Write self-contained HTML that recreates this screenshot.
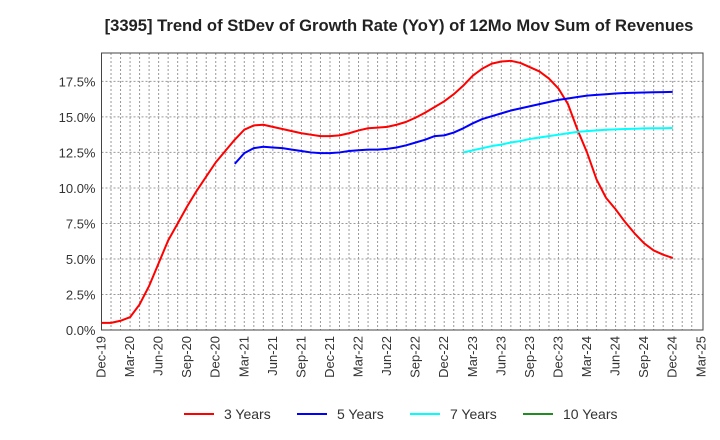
<!DOCTYPE html>
<html><head><meta charset="utf-8"><style>
body{margin:0;background:#fff;font-family:"Liberation Sans",Arial,sans-serif;}
svg{display:block}
</style></head><body>
<svg id="chart" width="720" height="440" viewBox="0 0 720 440" xmlns="http://www.w3.org/2000/svg">
<text x="399" y="31" text-anchor="middle" font-size="16.6" font-weight="bold" fill="#222">[3395]  Trend of StDev of Growth Rate (YoY) of 12Mo Mov Sum of Revenues</text>
<g id="grid"></g><g id="axes"></g><g id="series"></g>
<g>
<line x1="184" y1="414" x2="214" y2="414" stroke="#ff0000" stroke-width="2"/><text x="224" y="419" font-size="14" fill="#333">3 Years</text>
<line x1="297" y1="414" x2="327" y2="414" stroke="#0000ff" stroke-width="2"/><text x="337" y="419" font-size="14" fill="#333">5 Years</text>
<line x1="410" y1="414" x2="440" y2="414" stroke="#00ffff" stroke-width="2"/><text x="450" y="419" font-size="14" fill="#333">7 Years</text>
<line x1="523" y1="414" x2="553" y2="414" stroke="#228b22" stroke-width="2"/><text x="563" y="419" font-size="14" fill="#333">10 Years</text>
</g>
</svg>
<script>
const monthLabels=["Dec-19","Mar-20","Jun-20","Sep-20","Dec-20","Mar-21","Jun-21","Sep-21","Dec-21","Mar-22","Jun-22","Sep-22","Dec-22","Mar-23","Jun-23","Sep-23","Dec-23","Mar-24","Jun-24","Sep-24","Dec-24","Mar-25"];
const yTicks=[0,2.5,5,7.5,10,12.5,15,17.5];
const yTickLabels=["0.0%","2.5%","5.0%","7.5%","10.0%","12.5%","15.0%","17.5%"];
const start3=0;
const series3=[0.5,0.5,0.65,0.9,1.8,3.1,4.7,6.3,7.5,8.7,9.8,10.8,11.8,12.6,13.4,14.1,14.4,14.45,14.3,14.15,14.0,13.85,13.75,13.65,13.65,13.7,13.85,14.05,14.2,14.25,14.3,14.45,14.65,14.95,15.3,15.7,16.1,16.6,17.2,17.9,18.4,18.75,18.9,18.95,18.8,18.5,18.2,17.7,17.0,15.9,14.1,12.5,10.6,9.3,8.5,7.6,6.8,6.1,5.6,5.3,5.07];
const start5=14;
const series5=[11.7,12.45,12.8,12.9,12.85,12.8,12.7,12.6,12.5,12.45,12.45,12.5,12.6,12.65,12.7,12.7,12.75,12.85,13.0,13.2,13.4,13.65,13.7,13.9,14.2,14.55,14.85,15.05,15.25,15.45,15.6,15.75,15.9,16.05,16.2,16.3,16.4,16.5,16.55,16.6,16.65,16.68,16.7,16.72,16.74,16.75,16.76];
const start7=38;
const series7=[12.5,12.65,12.8,12.95,13.05,13.2,13.3,13.45,13.55,13.65,13.75,13.85,13.95,14.0,14.05,14.1,14.12,14.15,14.17,14.19,14.2,14.2,14.22];
const series10=[];

const L=101.5,R=703,T=53,B=330,step=9.52,yMax=19.5;
const X=m=>L+m*step;
const Y=v=>B-(v/yMax)*(B-T);
const NS="http://www.w3.org/2000/svg";
function mk(tag,attrs,parent){const e=document.createElementNS(NS,tag);for(const k in attrs)e.setAttribute(k,attrs[k]);parent.appendChild(e);return e;}
const grid=document.getElementById('grid'),axes=document.getElementById('axes'),ser=document.getElementById('series');
for(let m=1;m<63;m++){const l=mk('line',{x1:X(m),x2:X(m),y1:T,y2:B,stroke:'#999','stroke-width':1,'stroke-dasharray':'2,2'},grid);

}
yTicks.forEach((v,i)=>{if(v>0){const l=mk('line',{x1:L,x2:R,y1:Y(v),y2:Y(v),stroke:'#999','stroke-width':1,'stroke-dasharray':'2,2'},grid);

}
const t=mk('text',{x:L-6,y:Y(v)+5,'text-anchor':'end','font-size':13,fill:'#333'},axes);t.textContent=yTickLabels[i];

});
monthLabels.forEach((s,i)=>{const x=X(i*3);const t=mk('text',{x:x+4,y:B+6,'text-anchor':'end','font-size':13,fill:'#333',transform:`rotate(-90 ${x+4} ${B+6})`},axes);t.textContent=s;

});
const frame=mk('rect',{x:L,y:T,width:R-L,height:B-T,fill:'none',stroke:'#444','stroke-width':1},axes);


function line(data,start,color,name){if(!data.length)return;const p=mk('polyline',{points:data.map((v,i)=>X(start+i)+','+Y(v)).join(' '),fill:'none',stroke:color,'stroke-width':2,'stroke-linejoin':'round'},ser);

}
line(series3,start3,'#ff0000','series-3-years');
line(series5,start5,'#0000ff','series-5-years');
line(series7,start7,'#00ffff','series-7-years');
line(series10,0,'#228b22','series-10-years');
</script>
</body></html>
